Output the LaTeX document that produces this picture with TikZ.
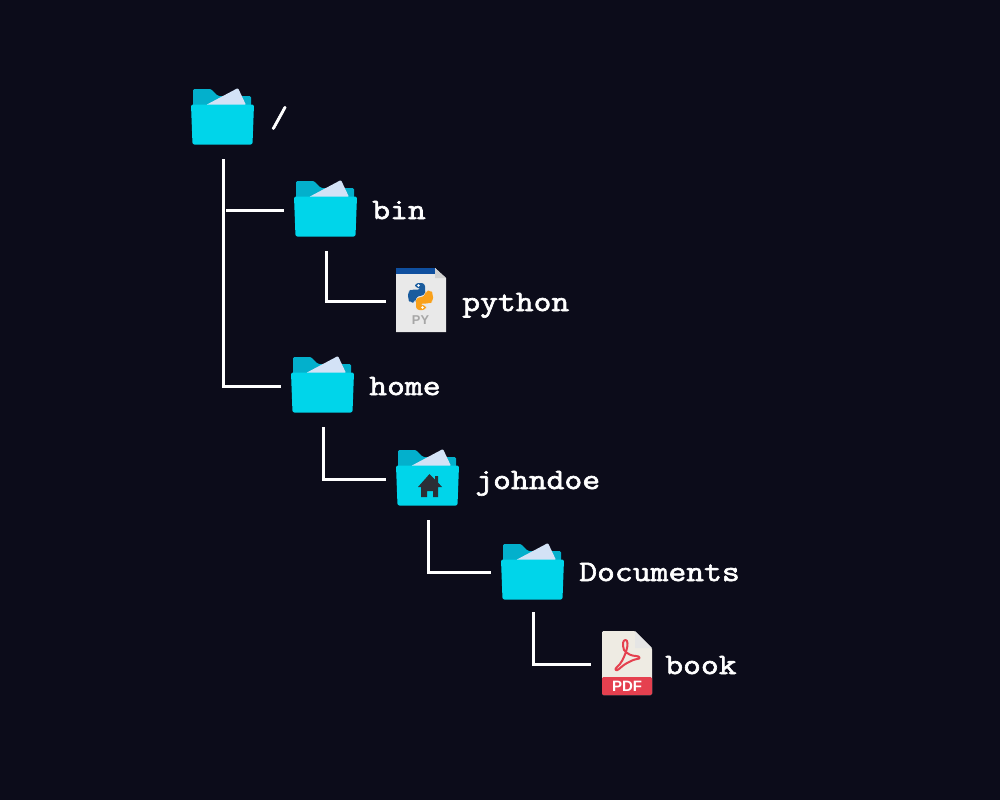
\documentclass[tikz,border=0pt]{standalone}
\usepackage{fontspec}
\setsansfont{Liberation Sans}[BoldFont={Liberation Sans Bold}]
\newfontfamily\lblfont{Latin Modern Mono}[FakeStretch=1.17,FakeBold=2.2]
\definecolor{bgc}{HTML}{0C0C1A}
\definecolor{foldf}{HTML}{00D5EA}
\definecolor{foldb}{HTML}{03B0CC}
\definecolor{paperc}{HTML}{D3E2F6}
\definecolor{docc}{HTML}{E9E9E9}
\definecolor{pdfc}{HTML}{EEEBE3}
\definecolor{pdfr}{HTML}{E5404F}
\definecolor{housec}{HTML}{2B2F36}
\definecolor{pybar}{HTML}{0F4F9F}
\definecolor{pyblue}{HTML}{1A5C9E}
\definecolor{pyorange}{HTML}{F9A11B}
\tikzset{
  iconbox/.style={draw=none,inner sep=0pt,outer sep=0pt,minimum width=65*0.75pt,minimum height=58*0.75pt,anchor=north west},
  docbox/.style={draw=none,inner sep=0pt,outer sep=0pt,minimum width=50*0.75pt,minimum height=66*0.75pt,anchor=north west},
  lbl/.style={text=white,inner sep=0pt,anchor=base west,font=\lblfont\fontsize{22.2pt}{24pt}\selectfont},
  conn/.style={draw=white,line width=2.25pt,line join=miter},
  stem/.style={conn,shorten <=12*0.75pt,shorten >=10*0.75pt},
}
\newcommand{\folderart}[2]{%
  \begin{scope}[shift={(#1,#2)}]
    \fill[foldb,rounded corners=1pt] (2,20) -- (2,0) -- (20,0) -- (27,7) -- (60,7) -- (60,20) -- cycle;
    \fill[paperc,rounded corners=0.8pt] (15,16) -- (47,-1) -- (55,16) -- cycle;
    \fill[foldf,rounded corners=1.5pt] (0,15.5) -- (63,15.5) -- (61.5,55.5) -- (1.5,55.5) -- cycle;
  \end{scope}}
\begin{document}
\begin{tikzpicture}[x=0.75pt,y=-0.75pt]
\useasboundingbox (0,0) rectangle (1000,800);
\fill[bgc] (0,0) rectangle (1000,800);
% folders
\folderart{191}{89}\node[iconbox] (root) at (191,89) {};
\folderart{294}{181}\node[iconbox] (bin) at (294,181) {};
\folderart{291}{357}\node[iconbox] (home) at (291,357) {};
\folderart{396}{450}\node[iconbox] (john) at (396,450) {};
\folderart{501}{544}\node[iconbox,minimum height=56*0.75pt] (docs) at (501,544) {};
% home glyph
\fill[housec] (429.5,474) -- (418,487) -- (421,487) -- (421,497) -- (427,497) -- (427,491) -- (433,491) -- (433,497) -- (438,497) -- (438,487) -- (442,487) -- (438,482.5) -- (438,476) -- (435,476) -- (435,479.5) -- cycle;
% python doc
\node[docbox] (py) at (396,268) {};
\fill[docc] (396,268) -- (435,268) -- (446,278) -- (446,332) -- (396,332) -- cycle;
\fill[black!18] (435,268) -- (446,278) -- (435,278) -- cycle;
\fill[pybar] (396,268) rectangle (435,274);
\begin{scope}[shift={(420.5,296.5)}]
  \fill[pyblue,rounded corners=2.5pt] (-5.5,-13.5) -- (4.5,-13.5) -- (4.5,-1) -- (-2,-1) -- (-5,2) -- (-5.5,6) -- (-10,6) -- (-12.5,3) -- (-12.5,-5) -- (-9,-7) -- (1,-7) -- (1,-8.5) -- (-5.5,-8.5) -- cycle;
  \fill[pyorange,rounded corners=2.5pt] (5.5,13.5) -- (-4.5,13.5) -- (-4.5,1) -- (2,1) -- (5,-2) -- (5.5,-6) -- (10,-6) -- (12.5,-3) -- (12.5,5) -- (9,7) -- (-1,7) -- (-1,8.5) -- (5.5,8.5) -- cycle;
  \fill[white] (-2,-11) circle (1pt) (2,11) circle (1pt);
\end{scope}
\node[text=black!35,inner sep=0pt,font=\sffamily\bfseries\fontsize{9.6pt}{10pt}\selectfont] (pylbl) at (420.5,320.5) {PY};
% pdf doc
\node[docbox,minimum height=68*0.75pt] (pdf) at (601,630) {};
\fill[pdfc,rounded corners=1pt] (602,631) -- (635,631) -- (652,648) -- (652,695) -- (602,695) -- cycle;
\fill[black!10] (635,631) -- (652,648) -- (635,648) -- cycle;
\fill[pdfr,rounded corners=1pt] (602,677) rectangle (652,695);
\draw[pdfr,line width=1.5pt,line join=round] (624,650) .. controls (622,644) and (623,640) .. (625.5,640) .. controls (628,640) and (628,645) .. (626.5,650) .. controls (624,658) and (621,664) .. (617,667) .. controls (614,669) and (616,672) .. (619,669) .. controls (623,665) and (631,660) .. (637,659) .. controls (641,659) and (640,656) .. (636,656) .. controls (632,656) and (627,654) .. (624,650) -- cycle;
\node[text=white,inner sep=0pt,font=\sffamily\bfseries\fontsize{11.25pt}{12pt}\selectfont] (pdflbl) at (627,686) {PDF};
% labels
\node[lbl] (t0) at (270,127) {/};
\node[lbl] (t1) at (372,219) {bin};
\node[lbl] (t2) at (462,311) {python};
\node[lbl] (t3) at (369,395) {home};
\node[lbl] (t4) at (475,489) {johndoe};
\node[lbl] (t5) at (579,581) {Documents};
\node[lbl] (t6) at (665,674) {book};
% connectors
\draw[stem] (root.south) |- (home.west);
\draw[conn,shorten <=2.5*0.75pt,shorten >=10*0.75pt] (root.south |- bin.west) -- (bin.west);
\draw[stem] (bin.south) |- (py.west);
\draw[stem] (home.south) |- (john.west);
\draw[stem] (john.south) |- (docs.west);
\draw[stem] (docs.south) |- (pdf.west);
\end{tikzpicture}
\end{document}
